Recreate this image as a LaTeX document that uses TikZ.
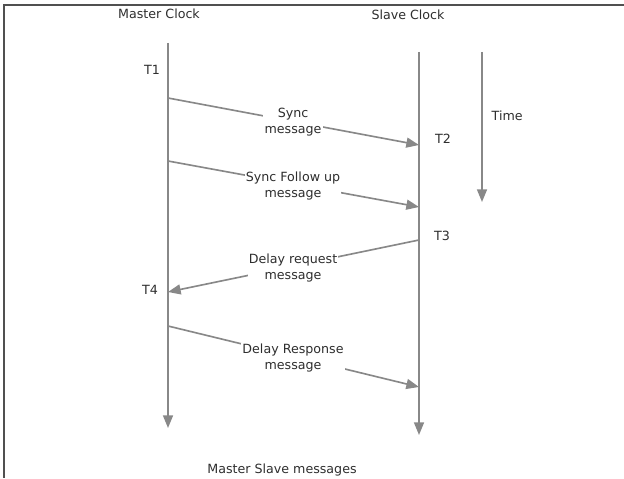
\documentclass[tikz,border=0pt]{standalone}
\usepackage{fontspec}
\setmainfont{DejaVu Sans}
\usetikzlibrary{arrows.meta}

\definecolor{linegray}{HTML}{888888}
\definecolor{textgray}{HTML}{2E2E2E}
\definecolor{framegray}{HTML}{505050}

\begin{document}
\begin{tikzpicture}[x=0.03cm,y=-0.03cm,line width=1.4pt,>={Triangle[length=3.8mm,width=3mm]},
  flow/.style={draw=linegray,->},
  lbl/.style={text=textgray,font=\fontsize{10.8}{13.2}\selectfont},
  msglbl/.style={lbl,fill=white,align=center,inner sep=1pt}]
  \useasboundingbox (0,0) rectangle (624,478);
  % marco (solo arriba e izquierda)
  \draw[framegray,line width=1.6pt] (624,5)--(4,5)--(4,478);
  % titulos de las lineas de vida
  \node[lbl] (master) at (159,14) {Master Clock};
  \node[lbl] (slave) at (408,15) {Slave Clock};
  % lineas de vida
  \coordinate (mtop) at (168,43); \coordinate (mbot) at (168,428);
  \coordinate (stop) at (419,52); \coordinate (sbot) at (419,435);
  \draw[flow] (mtop)--(mbot);
  \draw[flow] (stop)--(sbot);
  % eje de tiempo
  \coordinate (ttop) at (482,52); \coordinate (tbot) at (482,202);
  \draw[flow] (ttop)--(tbot);
  \node[lbl,anchor=west] (time) at (487,116) {Time};
  % marcas de tiempo
  \node[lbl] (t1) at (152,70) {T1};
  \node[lbl] (t2) at (443,139) {T2};
  \node[lbl] (t3) at (442,236) {T3};
  \node[lbl] (t4) at (150,290) {T4};
  % mensajes
  \coordinate (m1) at (168,98);  \coordinate (s1) at (419,145);
  \coordinate (m2) at (168,161); \coordinate (s2) at (419,207);
  \coordinate (s3) at (419,240); \coordinate (m3) at (168,292);
  \coordinate (m4) at (168,326); \coordinate (s4) at (419,387);
  \draw[flow] (m1)--(s1);
  \draw[flow] (m2)--(s2);
  \draw[flow] (s3)--(m3);
  \draw[flow] (m4)--(s4);
  \node[msglbl] (sync) at (293,122) {Sync\\message};
  \node[msglbl] (follow) at (293,186) {Sync Follow up\\message};
  \node[msglbl] (dreq) at (293,268) {Delay request\\message};
  \node[msglbl] (dresp) at (293,358) {Delay Response\\message};
  % pie
  \node[lbl] (caption) at (282,470) {Master Slave messages};
\end{tikzpicture}
\end{document}
